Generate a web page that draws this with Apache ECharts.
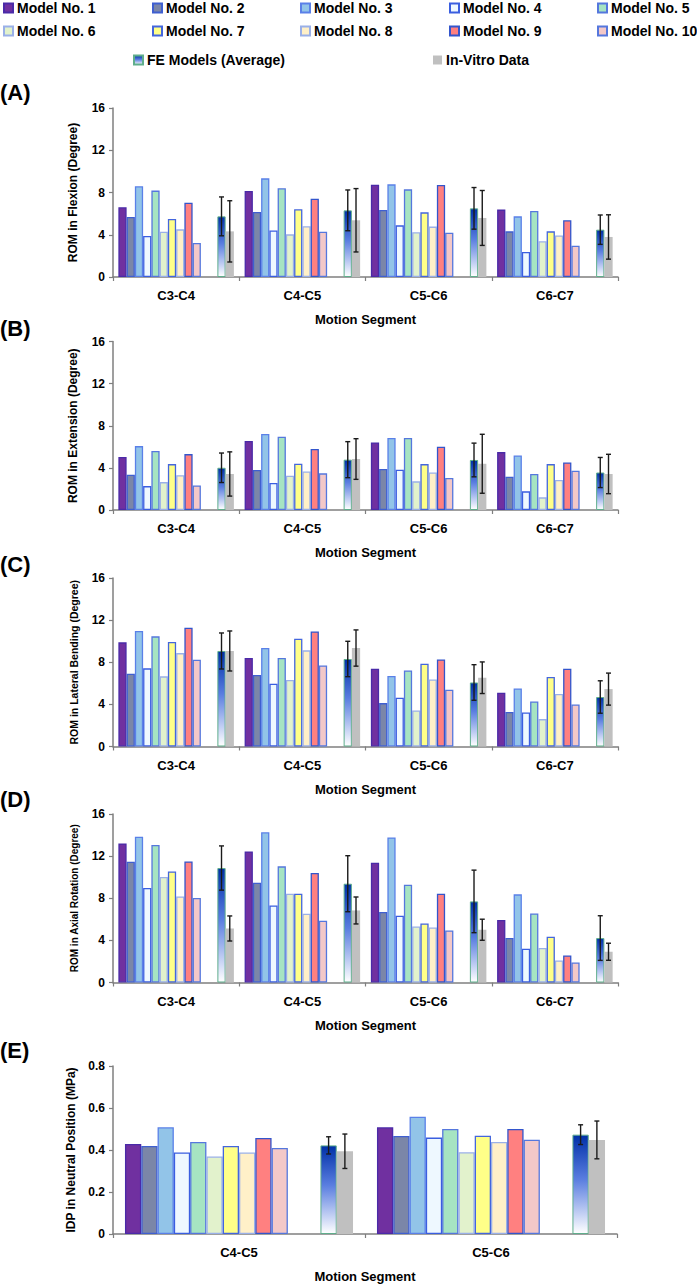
<!DOCTYPE html>
<html><head><meta charset="utf-8">
<script src="https://cdn.jsdelivr.net/npm/echarts@6/dist/echarts.min.js"></script>
<style>html,body{margin:0;padding:0;background:#fff}#c{width:697px;height:1284px}</style>
</head><body><div id="c"></div>
<script>
// ---------------- DATA ----------------
const segmentsROM = ['C3-C4', 'C4-C5', 'C5-C6', 'C6-C7'];
const segmentsIDP = ['C4-C5', 'C5-C6'];
const modelNames = ['Model No. 1','Model No. 2','Model No. 3','Model No. 4','Model No. 5',
                    'Model No. 6','Model No. 7','Model No. 8','Model No. 9','Model No. 10'];
const feName = 'FE Models (Average)';
const ivName = 'In-Vitro Data';

// (A) Flexion — rows: models 1..10, columns: segments
const flexionModels = [
  [6.60, 8.14, 8.74, 6.38],
  [5.68, 6.15, 6.34, 4.32],
  [8.59, 9.34, 8.77, 5.74],
  [3.88, 4.41, 4.89, 2.37],
  [8.18, 8.40, 8.30, 6.25],
  [4.29, 4.04, 4.23, 3.38],
  [5.49, 6.41, 6.12, 4.32],
  [4.51, 4.80, 4.77, 3.94],
  [7.04, 7.42, 8.71, 5.37],
  [3.22, 4.29, 4.20, 2.97]
];
const flexionFE = [5.74, 6.31, 6.50, 4.48];
const flexionFESD = [1.84, 1.93, 1.97, 1.39];
const flexionIV = [4.32, 5.37, 5.59, 3.79];
const flexionIVSD = [2.90, 3.00, 2.60, 2.10];

// (B) Extension
const extensionModels = [
  [5.03, 6.55, 6.42, 5.50],
  [3.35, 3.80, 3.90, 3.16],
  [6.07, 7.21, 6.84, 5.18],
  [2.27, 2.56, 3.83, 1.77],
  [5.60, 6.96, 6.84, 3.42],
  [2.65, 3.26, 2.72, 1.20],
  [4.36, 4.39, 4.36, 4.36],
  [3.31, 3.66, 3.56, 2.85],
  [5.31, 5.79, 6.00, 4.52],
  [2.33, 3.48, 3.04, 3.73]
];
const extensionFE = [4.01, 4.78, 4.75, 3.56];
const extensionFESD = [1.40, 1.71, 1.60, 1.43];
const extensionIV = [3.42, 4.84, 4.39, 3.42];
const extensionIVSD = [2.10, 1.93, 2.80, 1.87];

// (C) Lateral bending
const bendingModels = [
  [9.89, 8.40, 7.39, 5.10],
  [6.91, 6.79, 4.12, 3.27],
  [10.97, 9.35, 6.69, 5.51],
  [7.42, 5.96, 4.63, 3.23],
  [10.46, 8.40, 7.22, 4.28],
  [6.66, 6.31, 3.42, 2.60],
  [9.92, 10.24, 7.86, 6.60],
  [8.87, 9.13, 6.37, 4.98],
  [11.28, 10.93, 8.27, 7.39],
  [8.24, 7.70, 5.39, 3.99]
];
const bendingFE = [9.07, 8.31, 6.08, 4.70];
const bendingFESD = [1.71, 1.68, 1.69, 1.54];
const bendingIV = [9.07, 9.35, 6.53, 5.45];
const bendingIVSD = [1.90, 1.72, 1.50, 1.52];

// (D) Axial rotation
const rotationModels = [
  [13.21, 12.45, 11.38, 5.93],
  [11.47, 9.48, 6.69, 4.22],
  [13.85, 14.26, 13.78, 8.37],
  [8.97, 7.32, 6.34, 3.20],
  [13.06, 11.03, 9.29, 6.56],
  [10.02, 8.43, 5.32, 3.27],
  [10.55, 8.43, 5.61, 4.34],
  [8.17, 6.53, 5.23, 2.09],
  [11.50, 10.40, 8.43, 2.57],
  [8.02, 5.87, 4.94, 1.90]
];
const rotationFE = [10.87, 9.38, 7.70, 4.22];
const rotationFESD = [2.10, 2.66, 2.97, 2.12];
const rotationIV = [5.13, 6.84, 5.01, 2.92];
const rotationIVSD = [1.19, 1.28, 1.00, 0.81];

// (E) Intradiscal pressure
const idpModels = [
  [0.429, 0.508],
  [0.419, 0.467],
  [0.508, 0.558],
  [0.388, 0.459],
  [0.438, 0.500],
  [0.369, 0.389],
  [0.419, 0.468],
  [0.388, 0.438],
  [0.457, 0.500],
  [0.410, 0.449]
];
const idpFE = [0.422, 0.473];
const idpFESD = [0.041, 0.047];
const idpIV = [0.394, 0.448];
const idpIVSD = [0.082, 0.090];

const romTicks = [0, 4, 8, 12, 16];
const idpTicks = [0, 0.2, 0.4, 0.6, 0.8];

// ---------------- STYLE ----------------
const FONT = 'Liberation Sans, Arial, sans-serif';
const modelStyles = [
  {color: '#7030a0', borderColor: '#4a2aa8'},
  {color: '#7b86a8', borderColor: '#3f5fd0'},
  {color: '#92c4e8', borderColor: '#5a80e8'},
  {color: '#eef8ff', borderColor: '#3a5ee0'},
  {color: '#a6e4c2', borderColor: '#5577dd'},
  {color: '#e2f2cc', borderColor: '#9ab0e8'},
  {color: '#ffff88', borderColor: '#4466dd'},
  {color: '#fff0c8', borderColor: '#9ab0e8'},
  {color: '#ff8080', borderColor: '#3355cc'},
  {color: '#f3c8c8', borderColor: '#5577dd'}
];
const feStyle = {
  color: {type: 'linear', x: 0, y: 0, x2: 0, y2: 1, colorStops: [
    {offset: 0, color: '#0030a8'}, {offset: 0.45, color: '#5a7ee0'}, {offset: 1, color: '#ffffff'}]},
  borderColor: '#5fae8c', borderWidth: 1
};
const ivStyle = {color: '#c0c0c0', borderWidth: 0};

const panels = [
  {label: '(A)', name: 'ROM in Flexion (Degree)', nameSize: 12, cats: segmentsROM, models: flexionModels,
   fe: flexionFE, feSD: flexionFESD, iv: flexionIV, ivSD: flexionIVSD, ticks: romTicks,
   top: 108, height: 169, right: 79, gap: 0.085, labelTop: 81},
  {label: '(B)', name: 'ROM in Extension (Degree)', nameSize: 12, cats: segmentsROM, models: extensionModels,
   fe: extensionFE, feSD: extensionFESD, iv: extensionIV, ivSD: extensionIVSD, ticks: romTicks,
   top: 341.5, height: 168.5, right: 79, gap: 0.085, labelTop: 317},
  {label: '(C)', name: 'ROM in Lateral Bending (Degree)', nameSize: 10.5, cats: segmentsROM, models: bendingModels,
   fe: bendingFE, feSD: bendingFESD, iv: bendingIV, ivSD: bendingIVSD, ticks: romTicks,
   top: 578, height: 168.5, right: 79, gap: 0.085, labelTop: 553},
  {label: '(D)', name: 'ROM in Axial Rotation (Degree)', nameSize: 10, cats: segmentsROM, models: rotationModels,
   fe: rotationFE, feSD: rotationFESD, iv: rotationIV, ivSD: rotationIVSD, ticks: romTicks,
   top: 814, height: 168.5, right: 79, gap: 0.085, labelTop: 788},
  {label: '(E)', name: 'IDP in Neutral Position (MPa)', nameSize: 12, cats: segmentsIDP, models: idpModels,
   fe: idpFE, feSD: idpFESD, iv: idpIV, ivSD: idpIVSD, ticks: idpTicks,
   top: 1066, height: 169, right: 80, gap: 0.095, labelTop: 1039}
];

const NSLOT = 14; // 10 models + 2 empty slots + FE + in-vitro

function errRender(slot, gapFrac) {
  return function (params, api) {
    const cat = api.value(0), mean = api.value(1), sd = api.value(2);
    const bw = api.size([1, 0])[0];
    const inner = bw * (1 - gapFrac);
    const barW = inner / NSLOT;
    const c = api.coord([cat, mean]);
    const x = c[0] - inner / 2 + (slot + 0.5) * barW;
    const yTop = api.coord([cat, mean + sd])[1];
    const yBot = api.coord([cat, Math.max(0, mean - sd)])[1];
    const cap = 2.5;
    const st = {stroke: '#1a1a1a', lineWidth: 1.4};
    return {type: 'group', children: [
      {type: 'line', shape: {x1: x, y1: yTop, x2: x, y2: yBot}, style: st},
      {type: 'line', shape: {x1: x - cap, y1: yTop, x2: x + cap, y2: yTop}, style: st},
      {type: 'line', shape: {x1: x - cap, y1: yBot, x2: x + cap, y2: yBot}, style: st}
    ]};
  };
}

const grids = [], xAxes = [], yAxes = [], series = [], graphics = [];
panels.forEach((p, gi) => {
  grids.push({left: 113, right: p.right, top: p.top, height: p.height});
  xAxes.push({
    type: 'category', gridIndex: gi, data: p.cats,
    axisLine: {lineStyle: {color: '#7f7f7f', width: 1.5}},
    axisTick: {show: true, length: 4, lineStyle: {color: '#7f7f7f', width: 1.2}},
    axisLabel: {color: '#000', fontFamily: FONT, fontWeight: 'bold', fontSize: 13, margin: 12},
    name: 'Motion Segment', nameLocation: 'middle', nameGap: 36,
    nameTextStyle: {color: '#000', fontFamily: FONT, fontWeight: 'bold', fontSize: 13}
  });
  const t = p.ticks;
  yAxes.push({
    type: 'value', gridIndex: gi, min: t[0], max: t[t.length - 1], interval: t[1] - t[0],
    axisLine: {show: true, lineStyle: {color: '#7f7f7f', width: 1.5}},
    axisTick: {show: true, length: 4, lineStyle: {color: '#7f7f7f', width: 1.2}},
    splitLine: {show: false},
    axisLabel: {color: '#000', fontFamily: FONT, fontWeight: 'bold', fontSize: 12, margin: 8},
    name: p.name, nameLocation: 'middle', nameGap: 34, nameRotate: 90,
    nameTextStyle: {color: '#000', fontFamily: FONT, fontWeight: 'bold', fontSize: p.nameSize}
  });
  const common = {type: 'bar', xAxisIndex: gi, yAxisIndex: gi, barGap: 0,
    barCategoryGap: (p.gap * 100) + '%', animation: false};
  p.models.forEach((vals, mi) => {
    series.push(Object.assign({}, common, {
      name: modelNames[mi], data: vals,
      itemStyle: Object.assign({borderWidth: 1.3}, modelStyles[mi])
    }));
  });
  // two empty slots
  series.push(Object.assign({}, common, {name: '_gapA', data: p.cats.map(() => '-')}));
  series.push(Object.assign({}, common, {name: '_gapB', data: p.cats.map(() => '-')}));
  series.push(Object.assign({}, common, {name: feName, data: p.fe, itemStyle: feStyle}));
  series.push(Object.assign({}, common, {name: ivName, data: p.iv, itemStyle: ivStyle}));
  series.push({type: 'custom', xAxisIndex: gi, yAxisIndex: gi, z: 10, animation: false,
    renderItem: errRender(12, p.gap), data: p.fe.map((v, i) => [i, v, p.feSD[i]])});
  series.push({type: 'custom', xAxisIndex: gi, yAxisIndex: gi, z: 10, animation: false,
    renderItem: errRender(13, p.gap), data: p.iv.map((v, i) => [i, v, p.ivSD[i]])});
  graphics.push({type: 'text', left: 0, top: p.labelTop,
    style: {text: p.label, font: 'bold 22px ' + FONT, fill: '#000'}});
});

// legends: one component per entry for precise placement
const legendNames = modelNames.concat([feName, ivName]);
const legendPos = [
  [3, 1], [152, 1], [300, 1], [449, 1], [597, 1],
  [3, 24], [152, 24], [300, 24], [449, 24], [597, 24],
  [133, 53], [433, 53]
];
const legends = legendNames.map((n, i) => ({
  data: [n], left: legendPos[i][0], top: legendPos[i][1], padding: 0,
  icon: 'rect', itemWidth: 9, itemHeight: 9, itemGap: 0,
  textStyle: {color: '#000', fontFamily: FONT, fontWeight: 'bold', fontSize: 14, padding: [0, 0, 0, -1]},
  selectedMode: false
}));

const chart = echarts.init(document.getElementById('c'), null, {renderer: 'svg'});
chart.setOption({
  animation: false,
  backgroundColor: '#fff',
  grid: grids, xAxis: xAxes, yAxis: yAxes, series: series,
  legend: legends, graphic: graphics
});
</script>
</body></html>
